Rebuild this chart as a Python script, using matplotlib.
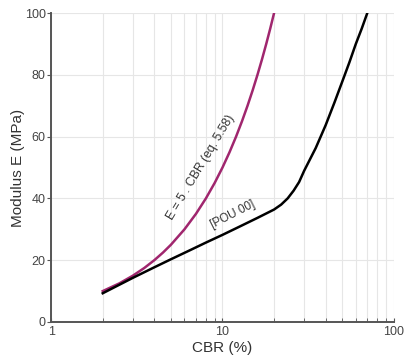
import matplotlib
matplotlib.use("Agg")
import matplotlib.pyplot as plt
from matplotlib.ticker import FixedLocator, NullFormatter

plt.rcParams['font.family'] = ['Liberation Sans', 'DejaVu Sans']

# E = 5 . CBR (eq. 5.58)
cbr_eq = [2, 2.5, 3, 3.5, 4, 4.5, 5, 6, 7, 8, 9, 10, 11, 12, 13, 14, 15, 16, 17, 18, 19, 20]
e_eq = [10, 12.5, 15, 17.5, 20, 22.5, 25, 30, 35, 40, 45, 50, 55, 60, 65, 70, 75, 80, 85, 90, 95, 100]

# [POU 00] curve
cbr_pou = [2, 3, 4, 5, 6.5, 8, 10, 12.5, 16, 20, 22, 24, 26, 28, 30, 35, 40, 45, 50, 55, 60, 65, 70]
e_pou = [9.3, 14.3, 17.7, 20.3, 23.3, 25.7, 28.2, 30.8, 33.7, 36.4, 38, 40, 42.5, 45.3, 49,
         56.3, 63.7, 71, 77.8, 84, 90, 95, 100]

xticks = [1, 10, 100]
xtick_labels = ["1", "10", "100"]
yticks = [0, 20, 40, 60, 80, 100]

fig = plt.figure(figsize=(4.06, 3.63), dpi=100)
ax = fig.add_axes([0.126, 0.113, 0.844, 0.851])

ax.plot(cbr_eq, e_eq, color="#a0266e", lw=1.8, zorder=3, solid_joinstyle="round")
ax.plot(cbr_pou, e_pou, color="black", lw=1.8, zorder=3, solid_joinstyle="round")

ax.set_xscale("log")
ax.set_xlim(1, 100)
ax.set_ylim(0, 100)
ax.set_xticks(xticks)
ax.set_xticklabels(xtick_labels)
ax.xaxis.set_minor_locator(FixedLocator([2, 3, 4, 5, 6, 7, 8, 9, 20, 30, 40, 50, 60, 70, 80, 90]))
ax.xaxis.set_minor_formatter(NullFormatter())
ax.set_yticks(yticks)

ax.grid(True, which="both", axis="x", color="#e6e6e6", lw=0.8)
ax.grid(True, which="major", axis="y", color="#e6e6e6", lw=0.8)
ax.set_axisbelow(True)

for s in ["top", "right"]:
    ax.spines[s].set_visible(False)
for s in ["left", "bottom"]:
    ax.spines[s].set_color("#555555")
    ax.spines[s].set_linewidth(1.4)

ax.tick_params(axis="x", which="both", direction="in", length=3, color="#555555",
               labelsize=9, labelcolor="#444444", pad=3)
ax.tick_params(axis="y", direction="out", length=3, color="#555555",
               labelsize=9, labelcolor="#444444", pad=1)

ax.set_xlabel("CBR (%)", fontsize=11, color="#333333", labelpad=2)
ax.set_ylabel("Modulus E (MPa)", fontsize=11, color="#333333", labelpad=0)

ax.text(7.5, 50, "E = 5 . CBR (eq. 5.58)", rotation=59, fontsize=8.8,
        color="#333333", ha="center", va="center", rotation_mode="anchor")
ax.text(11.5, 34.8, "[POU 00]", rotation=27, fontsize=8.5,
        color="#333333", ha="center", va="center", rotation_mode="anchor")

fig.savefig("out.png", dpi=100)
